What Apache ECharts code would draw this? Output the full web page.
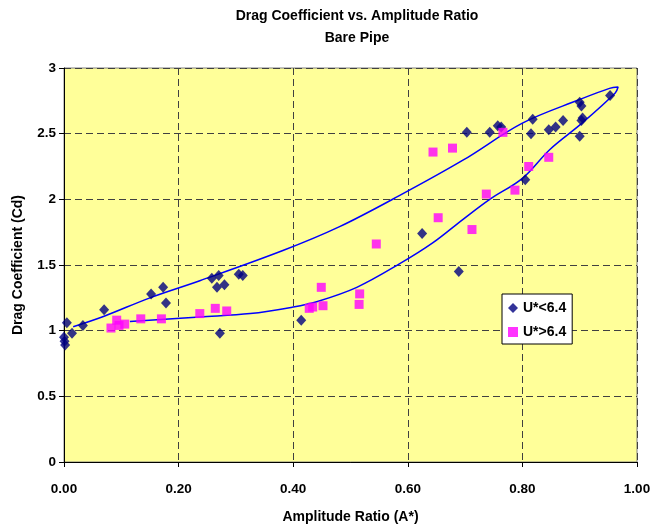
<!DOCTYPE html>
<html>
<head>
<meta charset="utf-8">
<script src="https://cdn.jsdelivr.net/npm/echarts@6/dist/echarts.min.js"></script>
<style>html,body{margin:0;padding:0;background:#fff}#c{width:654px;height:531px}</style>
</head>
<body>
<div id="c"></div>
<script>
var titleText = 'Drag Coefficient vs. Amplitude Ratio';
var subTitleText = 'Bare Pipe';
var xName = 'Amplitude Ratio (A*)';
var yName = 'Drag Coefficient (Cd)';
var seriesNames = ['U*<6.4', 'U*>6.4'];

var lowU = [
  [0.005,1.06],[0.000,0.95],[0.001,0.92],[0.002,0.89],[0.014,0.98],[0.033,1.04],
  [0.070,1.16],[0.152,1.28],[0.173,1.33],[0.178,1.21],
  [0.258,1.40],[0.270,1.42],[0.267,1.33],[0.280,1.35],[0.305,1.43],[0.312,1.42],
  [0.272,0.98],[0.414,1.08],[0.625,1.74],[0.689,1.45],
  [0.703,2.51],[0.743,2.51],[0.757,2.56],[0.763,2.55],[0.818,2.61],[0.815,2.50],
  [0.846,2.53],[0.858,2.55],[0.871,2.60],[0.900,2.74],[0.903,2.71],[0.903,2.60],
  [0.905,2.62],[0.900,2.48],[0.953,2.79],[0.805,2.15]
];
var highU = [
  [0.082,1.02],[0.092,1.08],[0.096,1.04],[0.106,1.05],[0.134,1.09],[0.170,1.09],
  [0.237,1.13],[0.264,1.17],[0.284,1.15],[0.428,1.17],[0.434,1.18],[0.452,1.19],
  [0.449,1.33],[0.516,1.28],[0.515,1.20],[0.545,1.66],[0.644,2.36],[0.678,2.39],
  [0.653,1.86],[0.712,1.77],[0.737,2.04],[0.787,2.07],[0.811,2.25],[0.846,2.32],
  [0.766,2.51]
];
var loopCurve = [
  [0.016,1.03],[0.07,1.11],[0.15,1.25],[0.237,1.38],[0.382,1.61],[0.48,1.79],
  [0.586,2.03],[0.697,2.30],[0.80,2.58],[0.90,2.76],[0.952,2.845],[0.967,2.855],
  [0.962,2.81],[0.904,2.58],[0.848,2.38],[0.80,2.16],[0.743,2.0],[0.697,1.85],
  [0.644,1.67],[0.586,1.51],[0.511,1.33],[0.441,1.22],[0.40,1.18],[0.325,1.13],
  [0.237,1.105],[0.115,1.07]
];

var F = 'Arial, "Liberation Sans", sans-serif';
var chart = echarts.init(document.getElementById('c'), null, {renderer: 'canvas'});
chart.setOption({
  animation: false,
  backgroundColor: '#ffffff',
  title: [
    {text: titleText, left: 352, top: 4, textAlign: 'center',
     textStyle: {fontFamily: F, fontSize: 14, fontWeight: 'bold', color: '#000'}},
    {text: subTitleText, left: 352, top: 26, textAlign: 'center',
     textStyle: {fontFamily: F, fontSize: 14, fontWeight: 'bold', color: '#000'}}
  ],
  grid: {left: 64, right: 17, top: 68, bottom: 69, show: true,
         backgroundColor: '#FFFF99', borderColor: '#808080', borderWidth: 1},
  legend: {
    data: seriesNames, orient: 'vertical', left: 502, top: 294,
    backgroundColor: '#ffffff', borderColor: '#000', borderWidth: 1,
    padding: [6, 6, 4, 6], itemGap: 8, itemWidth: 10, itemHeight: 10,
    textStyle: {fontFamily: F, fontSize: 14, fontWeight: 'bold', color: '#000', lineHeight: 16}
  },
  xAxis: {
    type: 'value', min: 0, max: 1, interval: 0.2,
    name: xName, nameLocation: 'middle', nameGap: 48,
    nameTextStyle: {fontFamily: F, fontSize: 14, fontWeight: 'bold', color: '#000'},
    axisLine: {show: true, lineStyle: {color: '#000', width: 1}},
    axisTick: {show: true, length: 5, inside: false, lineStyle: {color: '#000'}},
    axisLabel: {fontFamily: F, fontSize: 13.5, fontWeight: 'bold', color: '#000', margin: 20,
                formatter: function (v) { return v.toFixed(2); }},
    splitLine: {show: true, lineStyle: {color: '#404040', type: [7, 4], width: 1}}
  },
  yAxis: {
    type: 'value', min: 0, max: 3, interval: 0.5,
    name: yName, nameLocation: 'middle', nameGap: 39,
    nameTextStyle: {fontFamily: F, fontSize: 14, fontWeight: 'bold', color: '#000'},
    axisLine: {show: true, lineStyle: {color: '#000', width: 1}},
    axisTick: {show: true, length: 5, inside: false, lineStyle: {color: '#000'}},
    axisLabel: {fontFamily: F, fontSize: 13.5, fontWeight: 'bold', color: '#000', margin: 8},
    splitLine: {show: true, lineStyle: {color: '#404040', type: [7, 4], width: 1}}
  },
  series: [
    {name: 'curve', type: 'line', data: loopCurve, smooth: 0.35, showSymbol: false,
     lineStyle: {color: '#0000FF', width: 1.5}, z: 2, silent: true},
    {name: seriesNames[0], type: 'scatter', data: lowU, symbol: 'diamond', symbolSize: [10, 11],
     itemStyle: {color: '#000080'}, z: 3},
    {name: seriesNames[1], type: 'scatter', data: highU, symbol: 'rect', symbolSize: 9,
     itemStyle: {color: '#FF00FF'}, z: 3}
  ]
});
</script>
</body>
</html>
